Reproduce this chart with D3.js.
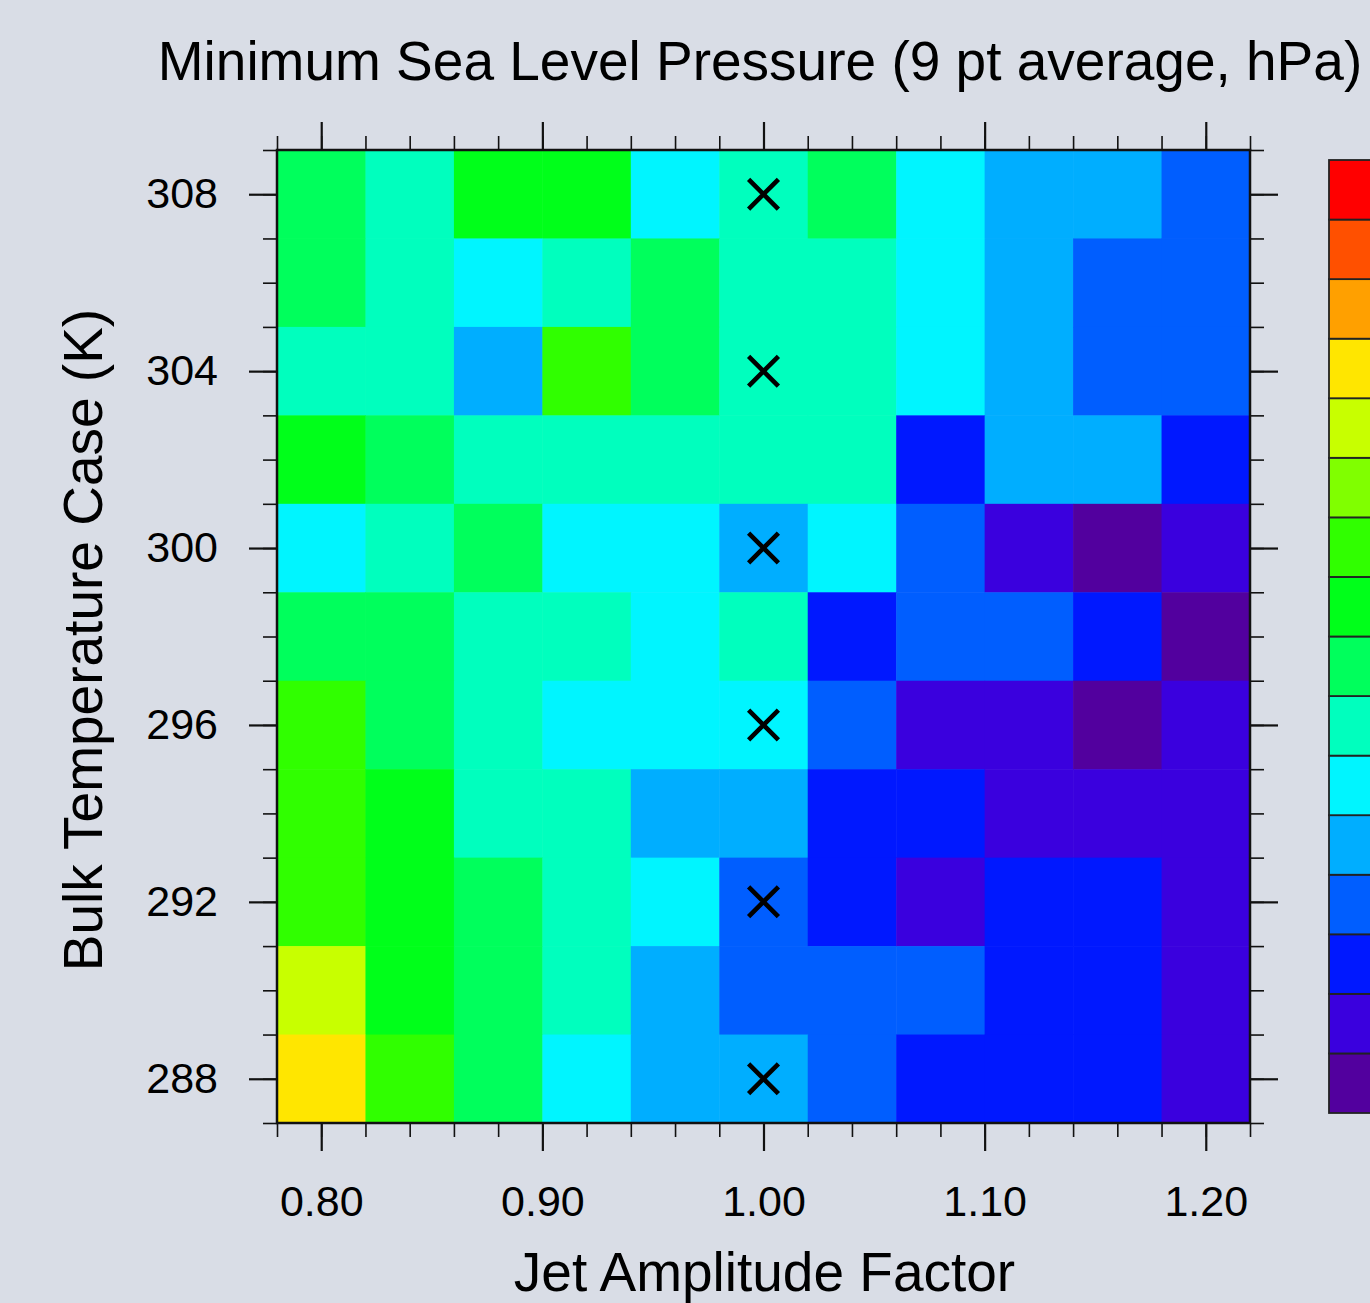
<!DOCTYPE html>
<html>
<head>
<meta charset="utf-8">
<script src="https://cdn.jsdelivr.net/npm/d3@7"></script>
<style>
  html, body { margin: 0; padding: 0; background: #d9dde6; overflow: hidden; }
  svg { display: block; font-family: "Liberation Sans", Arial, Helvetica, sans-serif; }
</style>
</head>
<body>
<div id="mslp"></div>
<script>
// jet amplitude factors (columns) and bulk temperature cases (rows)
let jetFactors = [0.80, 0.84, 0.88, 0.92, 0.96, 1.00, 1.04, 1.08, 1.12, 1.16, 1.20];
let bulkTemps = [308, 306, 304, 302, 300, 298, 296, 294, 292, 290, 288];

// colour class of each cell, 0 = lowest pressure (purple) ... 15 = highest (red)
// one row per bulk temperature, same order as bulkTemps
let mslpLevel = [
    [7, 6, 8, 8, 5, 6, 7, 5, 4, 4, 3],
    [7, 6, 5, 6, 7, 6, 6, 5, 4, 3, 3],
    [6, 6, 4, 9, 7, 6, 6, 5, 4, 3, 3],
    [8, 7, 6, 6, 6, 6, 6, 2, 4, 4, 2],
    [5, 6, 7, 5, 5, 4, 5, 3, 1, 0, 1],
    [7, 7, 6, 6, 5, 6, 2, 3, 3, 2, 0],
    [9, 7, 6, 5, 5, 5, 3, 1, 1, 0, 1],
    [9, 8, 6, 6, 4, 4, 2, 2, 1, 1, 1],
    [9, 8, 7, 6, 5, 3, 2, 1, 2, 2, 1],
    [11, 8, 7, 6, 4, 3, 3, 3, 2, 2, 1],
    [12, 9, 7, 5, 4, 4, 3, 2, 2, 2, 1]
];

// colour bar, bottom to top
let levelColors = ["#52009e", "#3a00de", "#0018ff", "#005eff", "#00aeff", "#00f5ff",
    "#00ffbe", "#00ff5c", "#00ff1a", "#30ff00", "#80ff00", "#c8ff00",
    "#ffe600", "#ffa000", "#ff5000", "#ff0000"];

// control runs marked with an X
let markJet = [1.00, 1.00, 1.00, 1.00, 1.00, 1.00];
let markTemp = [288, 292, 296, 300, 304, 308];

let majorJet = [0.80, 0.90, 1.00, 1.10, 1.20];
let minorJet = d3.range(0, 23).map(function(i) { return +(0.78 + i * 0.02).toFixed(2); });
let majorTemp = [288, 292, 296, 300, 304, 308];
let minorTemp = d3.range(287, 310);

// page layout
let W = 1370, H = 1303;
let plot = {left: 277, right: 1250, top: 150, bottom: 1123};

let svg = d3.select("#mslp")
    .append("svg")
    .attr("width", W)
    .attr("height", H);

svg.append("rect")
    .attr("width", W)
    .attr("height", H)
    .attr("fill", "#d9dde6");

let x = d3.scaleLinear()
    .domain([0.78, 1.22])
    .range([plot.left, plot.right]);

let y = d3.scaleLinear()
    .domain([287, 309])
    .range([plot.bottom, plot.top]);

let color = d3.scaleOrdinal()
    .domain(d3.range(levelColors.length))
    .range(levelColors);

// flatten grid into cells
let cells = [];
bulkTemps.forEach(function(t, r) {
    jetFactors.forEach(function(j, c) {
        cells.push({jet: j, temp: t, level: mslpLevel[r][c]});
    });
});

svg.append("g")
    .selectAll("rect")
    .data(cells)
    .enter()
    .append("rect")
    .attr("x", function(d) { return x(d.jet - 0.02); })
    .attr("y", function(d) { return y(d.temp + 1); })
    .attr("width", function(d) { return x(d.jet + 0.02) - x(d.jet - 0.02) + 0.5; })
    .attr("height", function(d) { return y(d.temp - 1) - y(d.temp + 1) + 0.5; })
    .attr("fill", function(d) { return color(d.level); });

// X markers
let marks = markJet.map(function(j, i) { return {jet: j, temp: markTemp[i]}; });
svg.append("g")
    .selectAll("path")
    .data(marks)
    .enter()
    .append("path")
    .attr("transform", function(d) { return "translate(" + x(d.jet) + "," + y(d.temp) + ")"; })
    .attr("d", d3.symbol(d3.symbolX, 580))
    .attr("fill", "none")
    .attr("stroke", "#000")
    .attr("stroke-width", 4.6);

// axes: major + minor ticks on all four sides, pointing outward
function styleAxis(g, width) {
    g.select(".domain").remove();
    g.selectAll(".tick line").attr("stroke", "#111").attr("stroke-width", width);
    g.selectAll(".tick text").attr("fill", "#000").style("font-size", "43px");
}

let fmtJet = d3.format(".2f");

svg.append("g")
    .attr("transform", "translate(0," + plot.bottom + ")")
    .call(d3.axisBottom(x).tickValues(minorJet).tickSize(14).tickFormat(""))
    .call(styleAxis, 1.6);
svg.append("g")
    .attr("transform", "translate(0," + plot.bottom + ")")
    .call(d3.axisBottom(x).tickValues(majorJet).tickSize(28).tickPadding(34).tickFormat(fmtJet))
    .call(styleAxis, 2.2);

svg.append("g")
    .attr("transform", "translate(0," + plot.top + ")")
    .call(d3.axisTop(x).tickValues(minorJet).tickSize(14).tickFormat(""))
    .call(styleAxis, 1.6);
svg.append("g")
    .attr("transform", "translate(0," + plot.top + ")")
    .call(d3.axisTop(x).tickValues(majorJet).tickSize(28).tickFormat(""))
    .call(styleAxis, 2.2);

svg.append("g")
    .attr("transform", "translate(" + plot.left + ",0)")
    .call(d3.axisLeft(y).tickValues(minorTemp).tickSize(14).tickFormat(""))
    .call(styleAxis, 1.6);
svg.append("g")
    .attr("transform", "translate(" + plot.left + ",0)")
    .call(d3.axisLeft(y).tickValues(majorTemp).tickSize(28).tickPadding(31).tickFormat(d3.format("d")))
    .call(styleAxis, 2.2);

svg.append("g")
    .attr("transform", "translate(" + plot.right + ",0)")
    .call(d3.axisRight(y).tickValues(minorTemp).tickSize(14).tickFormat(""))
    .call(styleAxis, 1.6);
svg.append("g")
    .attr("transform", "translate(" + plot.right + ",0)")
    .call(d3.axisRight(y).tickValues(majorTemp).tickSize(28).tickFormat(""))
    .call(styleAxis, 2.2);

// plot frame
svg.append("rect")
    .attr("x", plot.left)
    .attr("y", plot.top)
    .attr("width", plot.right - plot.left)
    .attr("height", plot.bottom - plot.top)
    .attr("fill", "none")
    .attr("stroke", "#111")
    .attr("stroke-width", 2.5);

// colour bar (runs off the right edge like the original)
let barY = d3.scaleBand()
    .domain(d3.range(levelColors.length).reverse())
    .range([160, 1113]);

svg.append("g")
    .selectAll("rect")
    .data(d3.range(levelColors.length))
    .enter()
    .append("rect")
    .attr("x", 1329)
    .attr("y", function(d) { return barY(d); })
    .attr("width", 80)
    .attr("height", barY.bandwidth())
    .attr("fill", function(d) { return color(d); })
    .attr("stroke", "#222")
    .attr("stroke-width", 1.8);

// titles
svg.append("text")
    .attr("x", 760)
    .attr("y", 80)
    .attr("text-anchor", "middle")
    .style("font-size", "55px")
    .attr("fill", "#000")
    .text("Minimum Sea Level Pressure (9 pt average, hPa)");

svg.append("text")
    .attr("x", (plot.left + plot.right) / 2 + 1)
    .attr("y", 1291)
    .attr("text-anchor", "middle")
    .style("font-size", "55px")
    .attr("fill", "#000")
    .text("Jet Amplitude Factor");

svg.append("text")
    .attr("transform", "translate(102," + 640 + ") rotate(-90)")
    .attr("text-anchor", "middle")
    .style("font-size", "55px")
    .attr("fill", "#000")
    .text("Bulk Temperature Case (K)");
</script>
</body>
</html>
